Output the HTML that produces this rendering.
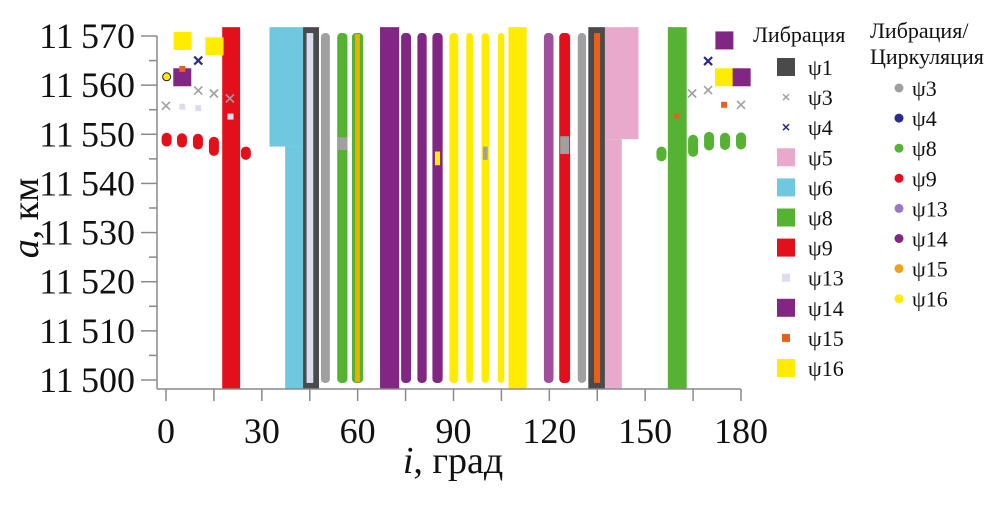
<!DOCTYPE html>
<html><head><meta charset="utf-8"><style>
html,body{margin:0;padding:0;background:#fff;}
svg{display:block;font-family:"Liberation Serif","DejaVu Serif",serif;}
</style></head><body>
<svg id="chart" width="1004" height="511" viewBox="0 0 1004 511" xmlns="http://www.w3.org/2000/svg">
<g id="marks"></g>
<g id="axes"></g>
<g id="legend"></g>
</svg>
<script>
// ---- data ----
const xTicks = [0,30,60,90,120,150,180];
const yTicks = [11500,11510,11520,11530,11540,11550,11560,11570];
const colors = {psi1:"#4a4a4c",psi3:"#a0a0a0",psi4:"#2b2b88",psi5:"#e8a9cd",psi6:"#6fc7e0",psi8:"#55b232",psi9:"#e30f1b",psi13:"#dcdcf0",psi14:"#812683",psi15:"#e8601a",psi16:"#ffec00",psi13c:"#a0509a",psi15c:"#e8b000",psi13l:"#9b78c4",psi15l:"#f0a020"};
// bars: [series, iFrom, iTo, aBottom, aTop, rounded]
const bars = [
 ["psi9",17.6,23.2,11498.2,11571.8,0],
 ["psi6",32.4,42.9,11547.5,11571.8,0],
 ["psi6",37.3,42.9,11498.2,11547.5,0],
 ["psi1",42.9,47.9,11498.2,11571.8,0],
 ["psi13",44.0,46.1,11499.4,11570.6,0],
 ["psi3",48.5,51.3,11499.4,11570.6,1],
 ["psi8",53.6,56.8,11499.4,11570.6,1],
 ["psi3",53.6,56.8,11546.8,11549.4,0],
 ["psi8",58.2,61.7,11499.4,11570.6,1],
 ["psi15c",59.2,60.7,11499.6,11570.4,0],
 ["psi14",67.0,73.0,11498.2,11571.8,0],
 ["psi14",73.6,76.7,11499.4,11570.6,1],
 ["psi14",78.7,81.6,11499.4,11570.6,1],
 ["psi14",83.4,86.6,11499.4,11570.6,1],
 ["psi16",84.2,85.8,11543.7,11546.5,0],
 ["psi16",88.7,91.5,11499.4,11570.6,1],
 ["psi16",94.0,96.1,11499.4,11570.6,1],
 ["psi16",98.8,101.1,11499.4,11570.6,1],
 ["psi3",99.2,100.7,11544.8,11547.5,0],
 ["psi16",103.9,105.9,11499.4,11570.6,1],
 ["psi16",107.2,112.9,11498.2,11571.8,0],
 ["psi13c",118.3,121.3,11499.4,11570.6,1],
 ["psi9",123.1,126.5,11499.4,11570.6,1],
 ["psi3",123.4,126.2,11546.0,11549.6,0],
 ["psi3",128.9,131.5,11499.4,11570.6,1],
 ["psi5",137.4,147.9,11549.0,11571.8,0],
 ["psi5",137.4,142.7,11498.2,11549.0,0],
 ["psi1",132.2,137.4,11498.2,11571.8,0],
 ["psi15",134.0,135.9,11499.4,11570.6,0],
 ["psi8",157.1,163.0,11498.2,11571.8,0]
];
// blobs: [series, i, aBottom, aTop]
const blobs = [
 ["psi9",0.2,11547.5,11550.3],["psi9",5.0,11547.3,11550.2],["psi9",10.0,11546.9,11550.1],
 ["psi9",15.0,11545.6,11549.5],["psi9",25.0,11544.8,11547.5],
 ["psi8",155.1,11544.5,11547.5],["psi8",165.0,11545.4,11549.9],["psi8",170.0,11546.7,11550.5],
 ["psi8",175.0,11546.8,11550.3],["psi8",180.0,11546.9,11550.4]
];
// squares: [series, i, a, sizePx]
const squares = [
 ["psi16",5.2,11569.0,18],["psi16",15.2,11567.9,18],["psi14",5.1,11561.6,18],
 ["psi15",5.1,11563.3,6],["psi13",5.1,11555.6,6],["psi13",10.1,11555.3,6],["psi13",20.2,11553.6,6],
 ["psi14",174.8,11569.1,18],["psi16",174.7,11561.6,18],["psi14",180.2,11561.6,18],
 ["psi15",174.7,11556.0,6],["psi8",159.9,11557.4,5],["psi15",159.9,11553.7,5]
];
// crosses: [series, i, a]
const crosses = [
 ["psi4",10.1,11565.0],["psi3",10.1,11558.9],["psi3",15.0,11558.3],["psi3",20.0,11557.3],["psi3",0.0,11555.8],
 ["psi4",169.7,11564.9],["psi3",164.7,11558.3],["psi3",169.7,11559.0],["psi3",180.0,11556.0]
];
const dots = [["psi16",0.2,11561.7]];
const legendLib = [["psi1","ψ1","sq"],["psi3","ψ3","x"],["psi4","ψ4","x"],["psi5","ψ5","sq"],["psi6","ψ6","sq"],["psi8","ψ8","sq"],["psi9","ψ9","sq"],["psi13","ψ13","sm"],["psi14","ψ14","sq"],["psi15","ψ15","sm"],["psi16","ψ16","sq"]];
const legendCirc = [["psi3","ψ3"],["psi4","ψ4"],["psi8","ψ8"],["psi9","ψ9"],["psi13l","ψ13"],["psi14","ψ14"],["psi15l","ψ15"],["psi16","ψ16"]];

// ---- scales ----
const X0=166, X1=741, Y0=380, Y1=36;
const xs = v => X0 + (v-0)*(X1-X0)/180;
const ys = v => Y0 - (v-11500)*(Y0-Y1)/70;
const NS="http://www.w3.org/2000/svg";
function mk(tag, attrs, parent){const e=document.createElementNS(NS,tag);for(const k in attrs)e.setAttribute(k,attrs[k]);parent.appendChild(e);return e;}
const gm=document.getElementById('marks'), ga=document.getElementById('axes'), gl=document.getElementById('legend');

bars.forEach((b,i)=>{
  const x=xs(b[1]), w=xs(b[2])-xs(b[1]), y=ys(b[4]), h=ys(b[3])-ys(b[4]);
  const r=b[5]?Math.min(w/2,4):0;
  const e=mk('rect',{x:x,y:y,width:w,height:h,rx:r,fill:colors[b[0]]},gm);
  
  
});
blobs.forEach((b,i)=>{
  const cx=xs(b[1]), y=ys(b[3]), h=ys(b[2])-ys(b[3]);
  const e=mk('rect',{x:cx-5,y:y,width:10,height:h,rx:5,fill:colors[b[0]]},gm);
  
  
});
squares.forEach((s,i)=>{
  const cx=xs(s[1]), cy=ys(s[2]), z=s[3];
  const e=mk('rect',{x:cx-z/2,y:cy-z/2,width:z,height:z,fill:colors[s[0]]},gm);
  
  
});
crosses.forEach((c,i)=>{
  const cx=xs(c[1]), cy=ys(c[2]), d=4;
  const e=mk('path',{d:`M${cx-d},${cy-d}L${cx+d},${cy+d}M${cx-d},${cy+d}L${cx+d},${cy-d}`,stroke:colors[c[0]],'stroke-width':c[0]==='psi4'?2.2:1.6,fill:'none'},gm);
  
  
});
dots.forEach((d,i)=>{
  const e=mk('circle',{cx:xs(d[1]),cy:ys(d[2]),r:4,fill:colors[d[0]],stroke:'#222','stroke-width':1},gm);
  
  
});

// axes
const axc='#8a8a8a';
let e=mk('line',{x1:157,y1:Y1,x2:157,y2:389,stroke:axc,'stroke-width':1.5},ga);


e=mk('line',{x1:157,y1:389,x2:X1,y2:389,stroke:axc,'stroke-width':1.5},ga);


for(let v=11500; v<=11570; v+=5){
  const major=(v%10===0);
  e=mk('line',{x1:major?141:149,y1:ys(v),x2:157,y2:ys(v),stroke:axc,'stroke-width':1.5},ga);
  
  
}
yTicks.forEach(v=>{
  const t=mk('text',{x:135,y:ys(v)+12,'text-anchor':'end','font-size':36,fill:'#111'},ga);
  t.textContent=String(v).slice(0,2)+'\u2009'+String(v).slice(2);
  
  
});
for(let v=0; v<=180; v+=15){
  e=mk('line',{x1:xs(v),y1:389,x2:xs(v),y2:401,stroke:axc,'stroke-width':1.5},ga);
  
  
}
xTicks.forEach(v=>{
  const t=mk('text',{x:xs(v),y:443,'text-anchor':'middle','font-size':36,fill:'#111'},ga);
  t.textContent=v;
  
  
});
let t=mk('text',{x:453,y:473,'text-anchor':'middle','font-size':38,fill:'#111'},ga);
t.innerHTML='<tspan font-style="italic">i</tspan>, град';


t=mk('text',{x:0,y:0,'text-anchor':'middle','font-size':38,fill:'#111',transform:'translate(38,218) rotate(-90)'},ga);
t.innerHTML='<tspan font-style="italic">a</tspan>, км';



// legend
t=mk('text',{x:753,y:42,'font-size':22,fill:'#111'},gl);
t.textContent='Либрация';


legendLib.forEach((l,i)=>{
  const cy=67+i*30.1;
  const g=mk('g',{},gl);
  
  
  if(l[2]==='sq') mk('rect',{x:777,y:cy-9,width:18,height:18,fill:colors[l[0]]},g);
  else if(l[2]==='sm') mk('rect',{x:782,y:cy-4,width:8,height:8,fill:colors[l[0]]},g);
  else mk('path',{d:`M783,${cy-3}L789,${cy+3}M783,${cy+3}L789,${cy-3}`,stroke:colors[l[0]],'stroke-width':1.5},g);
  const tt=mk('text',{x:808,y:cy+8,'font-size':22,fill:'#111'},g);
  tt.textContent=l[1];
});
t=mk('text',{x:870,y:38,'font-size':22,fill:'#111'},gl);
t.textContent='Либрация/';


t=mk('text',{x:870,y:64,'font-size':22,fill:'#111'},gl);
t.textContent='Циркуляция';


legendCirc.forEach((l,i)=>{
  const cy=88+i*30.1;
  const g=mk('g',{},gl);
  
  
  mk('circle',{cx:899,cy:cy,r:4.5,fill:colors[l[0]]},g);
  const tt=mk('text',{x:912,y:cy+8,'font-size':22,fill:'#111'},g);
  tt.textContent=l[1];
});
</script>
</body></html>
